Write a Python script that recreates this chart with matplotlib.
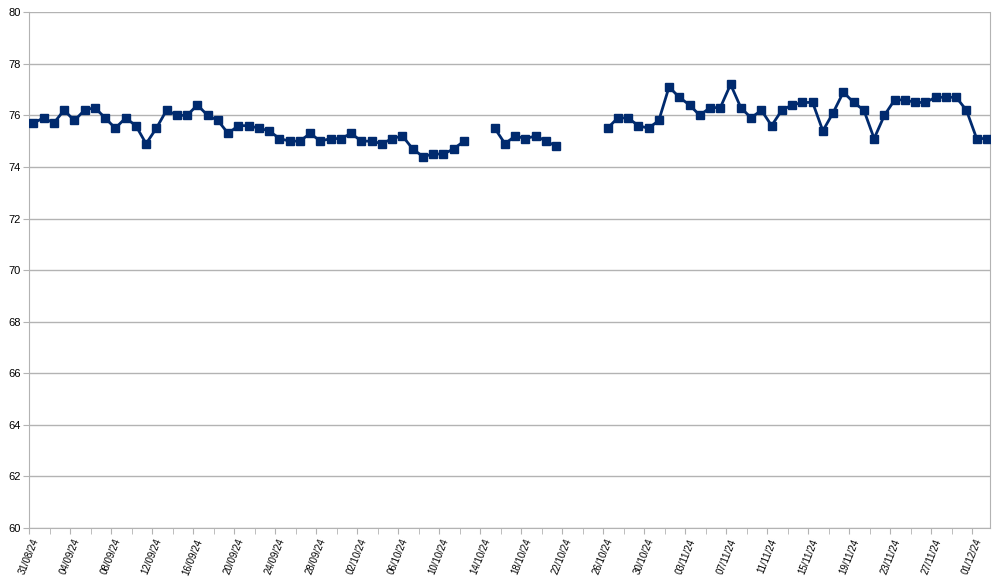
import numpy as np
import pandas as pd
import matplotlib
matplotlib.use("Agg")
import matplotlib.pyplot as plt
from matplotlib.transforms import ScaledTranslation

plt.rcParams['font.family'] = ['Liberation Sans', 'DejaVu Sans']

# Daily values from 31/08/24 to 03/12/24 (NaN = no reading)
start_date = "2024-08-31"
values = [
    75.7, 75.9, 75.7, 76.2, 75.8, 76.2, 76.3, 75.9, 75.5, 75.9,
    75.6, 74.9, 75.5, 76.2, 76.0, 76.0, 76.4, 76.0, 75.8, 75.3,
    75.6, 75.6, 75.5, 75.4, 75.1, 75.0, 75.0, 75.3, 75.0, 75.1,
    75.1, 75.3, 75.0, 75.0, 74.9, 75.1, 75.2, 74.7, 74.4, 74.5,
    74.5, 74.7, 75.0, np.nan, np.nan, 75.5, 74.9, 75.2, 75.1, 75.2,
    75.0, 74.8, np.nan, np.nan, np.nan, np.nan, 75.5, 75.9, 75.9, 75.6,
    75.5, 75.8, 77.1, 76.7, 76.4, 76.0, 76.3, 76.3, 77.2, 76.3,
    75.9, 76.2, 75.6, 76.2, 76.4, 76.5, 76.5, 75.4, 76.1, 76.9,
    76.5, 76.2, 75.1, 76.0, 76.6, 76.6, 76.5, 76.5, 76.7, 76.7,
    76.7, 76.2, 75.1, 75.1,
]
dates = pd.date_range(start_date, periods=len(values), freq="D")
tick_labels = [d.strftime("%d/%m/%y") for d in dates[::4]]

x = np.arange(len(values))

fig = plt.figure(figsize=(10, 5.79), dpi=100)
ax = fig.add_axes([0.029, 0.088, 0.961, 0.891])

ax.plot(x, values, color="#002a6e", lw=2.0, marker="s", ms=6, zorder=3)

# ticks sit slightly left of the points, like the original category axis
off = 0.42
ax.set_xlim(-off, len(values) - 0.7)
ax.set_ylim(60, 80)
ax.set_yticks(np.arange(60, 81, 2))
ax.set_xticks(x[::4] - off)
ax.set_xticklabels(tick_labels, rotation=68, ha="right", va="center",
                   rotation_mode="anchor", fontsize=7)
ax.set_xticks(x[2::4] - off, minor=True)

ax.grid(axis="y", color="#b3b3b3", lw=1)
ax.set_axisbelow(True)
for s in ax.spines.values():
    s.set_color("#b3b3b3")
ax.spines["top"].set_visible(False)
ax.tick_params(axis="both", which="both", color="#b3b3b3", length=4,
               labelsize=8, pad=2)
ax.tick_params(axis="x", which="major", labelsize=7, pad=4)

shift = ScaledTranslation(7 / 100, 0, fig.dpi_scale_trans)
for lab in ax.get_xticklabels():
    lab.set_transform(lab.get_transform() + shift)

fig.savefig("out.png", dpi=100)
